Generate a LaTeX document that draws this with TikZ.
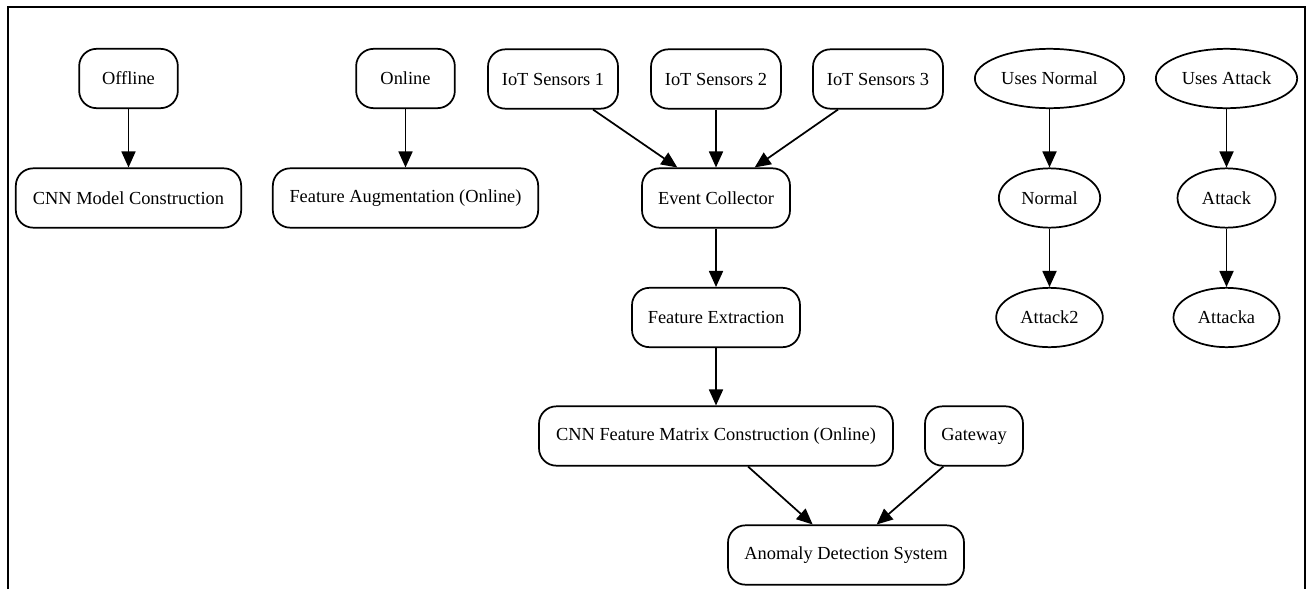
\documentclass[tikz,border=0pt]{standalone}
\usepackage{fontspec}
\setmainfont{Liberation Serif}
\usetikzlibrary{shapes.geometric,arrows.meta}
\tikzset{
BOX/.style ={draw=black,line width=1.3pt,rounded corners=13pt,minimum height=44.5pt,font=\fontsize{13.8}{16}\selectfont},
OVAL/.style={draw=black,line width=1.3pt,ellipse,inner sep=0pt,minimum height=44.5pt,font=\fontsize{13.8}{16}\selectfont},
EDGE/.style={draw=black,line width=1.3pt,-{Triangle[length=12pt,width=10.5pt]}},
FRAME/.style={draw=black,line width=1.6pt},
}

\begin{document}
\begin{tikzpicture} %IoT anomaly detection flow
[x=0.75pt, y=-0.75pt]
	\useasboundingbox (0,0) rectangle (1306,589);
	\path[FRAME] (8,589) -- (8,7) -- (1305,7) -- (1305,589);
	% offline / online branches
	\node[BOX, minimum width=74pt] (off) at (128.5,78.5) {Offline};
	\node[BOX, minimum width=169pt] (cnnm) at (128.5,198) {CNN Model Construction};
	\node[BOX, minimum width=74pt] (on) at (405.5,78.5) {Online};
	\node[BOX, minimum width=199pt] (aug) at (405.5,198) {Feature Augmentation (Online)};
	% sensors and pipeline
	\node[BOX, minimum width=97.5pt] (iot1) at (553,79) {IoT Sensors 1};
	\node[BOX, minimum width=97.5pt] (iot2) at (716,79) {IoT Sensors 2};
	\node[BOX, minimum width=97.5pt] (iot3) at (878,79) {IoT Sensors 3};
	\node[BOX, minimum width=111pt] (ec) at (716,198) {Event Collector};
	\node[BOX, minimum width=126pt] (fe) at (716,317.5) {Feature Extraction};
	\node[BOX, minimum width=265.5pt] (fm) at (716,436) {CNN Feature Matrix Construction (Online)};
	\node[BOX, minimum width=73.5pt] (gw) at (974,436) {Gateway};
	\node[BOX, minimum width=177pt] (ads) at (846,555) {Anomaly Detection System};
	% usage ellipses
	\node[OVAL, minimum width=112pt] (usen) at (1049.5,78.5) {Uses Normal};
	\node[OVAL, minimum width=76pt] (norm) at (1049.5,198) {Normal};
	\node[OVAL, minimum width=80pt] (atk2) at (1049.5,317.5) {Attack2};
	\node[OVAL, minimum width=106pt] (usea) at (1226.5,78.5) {Uses Attack};
	\node[OVAL, minimum width=73.5pt] (atk) at (1226.5,198) {Attack};
	\node[OVAL, minimum width=79.5pt] (atka) at (1226.5,317.5) {Attacka};
	% edges
	\path[EDGE] (off) -- (cnnm);
	\path[EDGE] (on) -- (aug);
	\path[EDGE] ([xshift=30pt]iot1.south) -- ([xshift=-29pt]ec.north);
	\path[EDGE] (iot2) -- (ec);
	\path[EDGE] ([xshift=-30pt]iot3.south) -- ([xshift=29pt]ec.north);
	\path[EDGE] (ec) -- (fe);
	\path[EDGE] (fe) -- (fm);
	\path[EDGE] ([xshift=24pt]fm.south) -- ([xshift=-25pt]ads.north);
	\path[EDGE] ([xshift=-23pt]gw.south) -- ([xshift=23pt]ads.north);
	\path[EDGE] (usen) -- (norm);
	\path[EDGE] (norm) -- (atk2);
	\path[EDGE] (usea) -- (atk);
	\path[EDGE] (atk) -- (atka);
\end{tikzpicture}
\end{document}
